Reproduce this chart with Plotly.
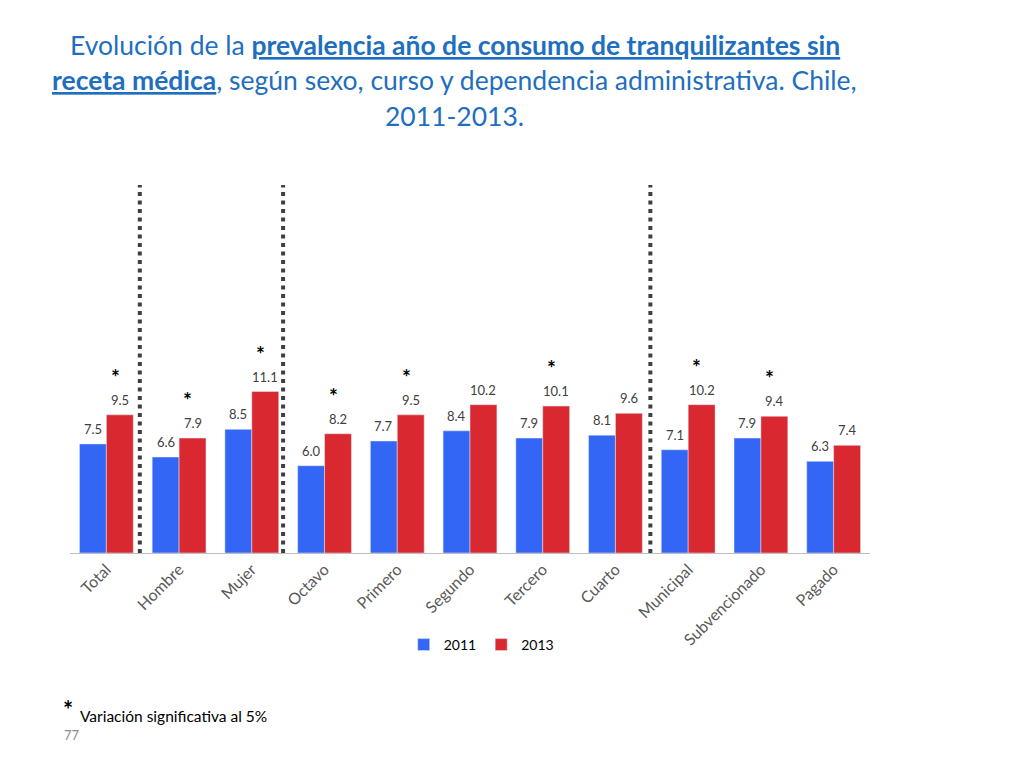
import plotly.graph_objects as go

# data
categorias = ["Total", "Hombre", "Mujer", "Octavo", "Primero", "Segundo",
              "Tercero", "Cuarto", "Municipal", "Subvencionado", "Pagado"]
prev_2011 = [7.5, 6.6, 8.5, 6.0, 7.7, 8.4, 7.9, 8.1, 7.1, 7.9, 6.3]
prev_2013 = [9.5, 7.9, 11.1, 8.2, 9.5, 10.2, 10.1, 9.6, 10.2, 9.4, 7.4]
significativo = [True, True, True, True, True, False, True, False, True, True, False]
separadores = [0.46, 2.43, 7.48]

titulo = [
    "Evolución de la <b><u>prevalencia año de consumo de tranquilizantes sin</u></b>",
    "<b><u>receta médica</u></b>, según sexo, curso y dependencia administrativa. Chile,",
    "2011-2013.",
]
titulo_y = [1.3804, 1.2853, 1.1875]

AZUL = "#3366F5"
ROJO = "#D9282F"
GRIS = "#404040"
OFF = 0.185  # half bar width in category units

fig = go.Figure()
fig.add_trace(go.Bar(x=categorias, y=prev_2011, name="2011", marker_color=AZUL))
fig.add_trace(go.Bar(x=categorias, y=prev_2013, name="2013", marker_color=ROJO))

# value labels, a bit above each bar like the original
for i, (a, b) in enumerate(zip(prev_2011, prev_2013)):
    for xv, v in ((i - OFF, a), (i + OFF, b)):
        fig.add_annotation(x=xv, y=v, text=f"{v:.1f}", showarrow=False,
                           yanchor="middle", yshift=15,
                           font=dict(family="Lato", size=13, color=GRIS))

# significance stars above the 2013 bars
for i, (v, s) in enumerate(zip(prev_2013, significativo)):
    if s:
        fig.add_annotation(x=i + 0.12, y=v, text="<b>*</b>", showarrow=False,
                           yanchor="bottom", yshift=24,
                           font=dict(size=21, color="black"))

# dotted separators between groups
for xs in separadores:
    fig.add_shape(type="line", xref="x", yref="paper", x0=xs, x1=xs, y0=0, y1=1,
                  line=dict(color=GRIS, width=4, dash="4px,4.5px"))

# title, one annotation per line
for linea, ty in zip(titulo, titulo_y):
    fig.add_annotation(xref="paper", yref="paper", x=0.481, y=ty, yanchor="middle",
                       text=linea, showarrow=False,
                       font=dict(family="Lato", size=26.5, color="#1F6FC0"))

# footnote
fig.add_annotation(xref="paper", yref="paper", x=-0.011, y=-0.470,
                   text="<b>*</b>", showarrow=False, yanchor="bottom",
                   font=dict(size=24, color="black"))
fig.add_annotation(xref="paper", yref="paper", x=0.010, y=-0.443, xanchor="left",
                   yanchor="middle", text="Variación significativa al 5%", showarrow=False,
                   font=dict(family="Lato", size=15.5, color="black"))
fig.add_annotation(xref="paper", yref="paper", x=-0.01, y=-0.494, xanchor="left",
                   yanchor="middle", text="77", showarrow=False,
                   font=dict(family="Lato", size=13, color="#8C8C8C"))

fig.update_layout(
    width=1016, height=760,
    margin=dict(l=62, r=154, t=177, b=215),
    paper_bgcolor="white", plot_bgcolor="white",
    barmode="group", bargap=0.26, bargroupgap=0,
    font=dict(family="Lato", color=GRIS),
    showlegend=True,
    legend=dict(orientation="h", x=0.514, y=-0.25, xanchor="center", yanchor="middle",
                font=dict(size=14, color="black"), itemwidth=30, traceorder="normal"),
    xaxis=dict(tickangle=-45, tickfont=dict(size=16, color="#595959"),
               showline=True, linecolor="#BFBFBF", linewidth=1, ticks="",
               automargin=False),
    yaxis=dict(range=[0, 25.3], visible=False),
)

fig.write_html("out.html")
